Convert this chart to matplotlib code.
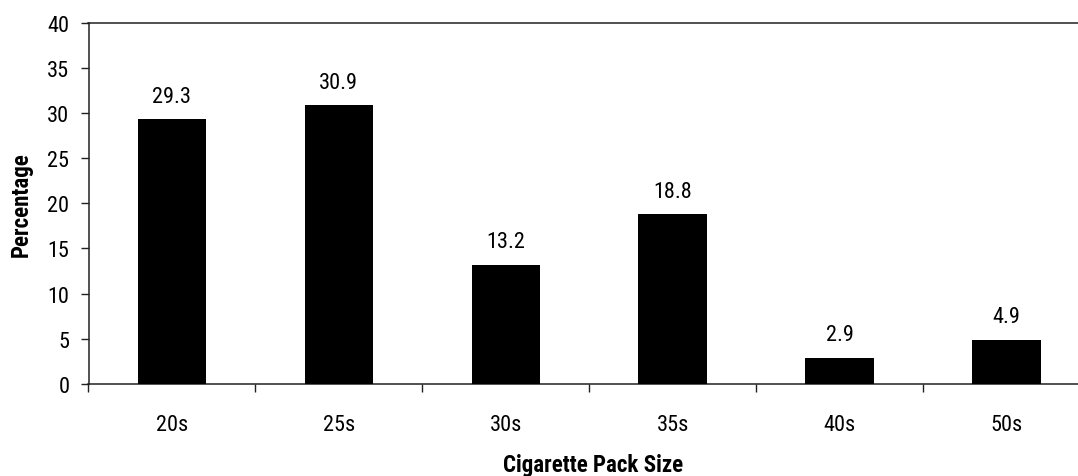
import matplotlib
matplotlib.use("Agg")
import matplotlib.pyplot as plt
from matplotlib import font_manager

pack_sizes = ["20s", "25s", "30s", "35s", "40s", "50s"]
percentages = [29.3, 30.9, 13.2, 18.8, 2.9, 4.9]
y_ticks = [0, 5, 10, 15, 20, 25, 30, 35, 40]

names = {f.name for f in font_manager.fontManager.ttflist}
narrow = [n for n in ("Liberation Sans Narrow", "Roboto Condensed", "Open Sans Condensed") if n in names]
plt.rcParams["font.family"] = narrow[:1] + ["Liberation Sans", "DejaVu Sans"]
fs = 16 if narrow else 14
fs_bold = 16.5 if narrow else 14

W, H = 1078, 477
fig = plt.figure(figsize=(W / 100, H / 100), dpi=100)
left, right, top, bottom = 88.5, 1090, 24, 384.7
ax = fig.add_axes([left / W, 1 - bottom / H, (right - left) / W, (bottom - top) / H])

x = list(range(len(pack_sizes)))
ax.bar(x, percentages, width=0.41, color="black", zorder=3)
for xi, v in zip(x, percentages):
    ax.annotate(f"{v:.1f}", (xi, v), xytext=(0, 9), textcoords="offset points",
                ha="center", va="bottom", fontsize=fs)

ax.set_xlim(-0.5, len(pack_sizes) - 0.5)
ax.set_ylim(0, 40)
ax.set_yticks(y_ticks)
ax.set_yticklabels([str(t) for t in y_ticks], fontsize=fs)
ax.set_xticks([i - 0.5 for i in range(len(pack_sizes))])
ax.set_xticklabels([])
ax.set_xticks(x, minor=True)
ax.set_xticklabels(pack_sizes, minor=True, fontsize=fs)
ax.tick_params(axis="x", which="minor", length=0, pad=22)
ax.tick_params(axis="x", which="major", length=5.8, width=1, color="#222222")
ax.tick_params(axis="y", length=5.8, width=1, color="#222222", pad=8)

for s in ax.spines.values():
    s.set_color("#222222")
    s.set_linewidth(1.1)

fig.text(21 / W, 1 - 205 / H, "Percentage", rotation=90, ha="center", va="center",
         fontsize=fs_bold, fontweight="bold")
fig.text(593 / W, 1 - 466 / H, "Cigarette Pack Size", ha="center", va="center",
         fontsize=fs_bold, fontweight="bold")

fig.savefig("out.png", dpi=100)
